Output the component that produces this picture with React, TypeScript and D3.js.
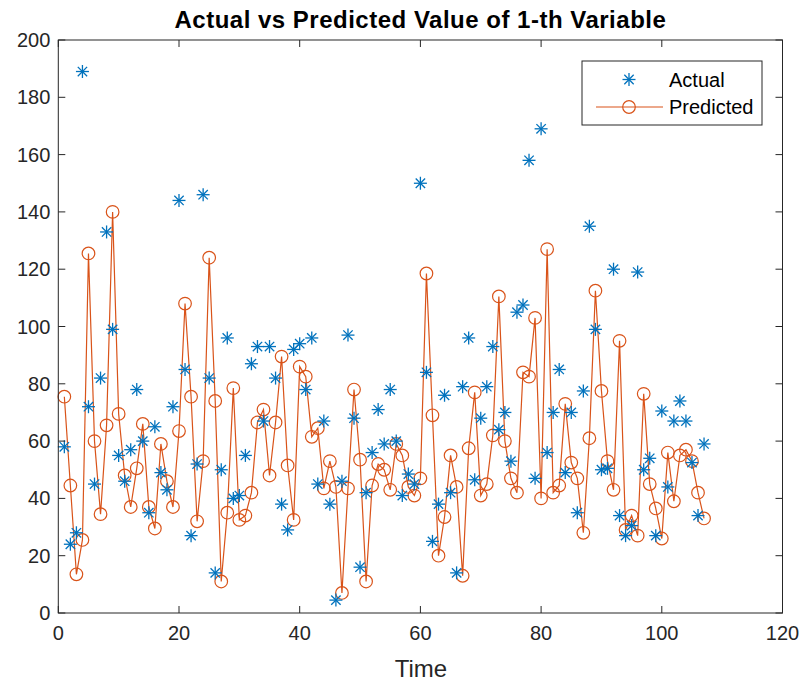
import React, { useEffect, useRef } from 'react';
import * as d3 from 'd3';

// values, time steps 1..107
const actual = [
  58, 24, 28, 189, 72, 45, 82, 133, 99, 55,
  46, 57, 78, 60, 35, 65, 49, 43, 72, 144,
  85, 27, 52, 146, 82, 14, 50, 96, 40, 41,
  55, 87, 93, 67, 93, 82, 38, 29, 92, 94,
  78, 96, 45, 67, 38, 4.5, 46, 97, 68, 16,
  42, 56, 71, 59, 78, 60, 41, 48.5, 45, 150,
  84, 25, 38, 76, 42, 14, 79, 96, 46.5, 68,
  79, 93, 64, 70, 53, 105, 107.5, 158, 47, 169,
  56, 70, 85, 49, 70, 35, 77.5, 135, 99, 50,
  50.5, 120, 34, 27, 30.5, 119, 50, 54, 27, 70.5,
  44, 67, 74, 67, 52.5, 34, 59,
];

const predicted = [
  75.5, 44.5, 13.5, 25.5, 125.5, 60, 34.5, 65.5, 140, 69.5,
  48, 37, 50.5, 66, 37, 29.5, 59, 46, 37, 63.5,
  108, 75.5, 32, 53, 124, 74, 11, 35, 78.5, 32.5,
  34, 42, 66.5, 71, 48, 66.5, 89.5, 51.5, 32.5, 86,
  82.5, 61.5, 64.5, 43.5, 53, 44, 7, 43.5, 78, 53.5,
  11, 44.5, 52, 50, 43, 59, 55, 44, 41, 47,
  118.5, 69, 20, 33.5, 55, 44, 13, 57.5, 77, 41,
  45, 62, 110.5, 60, 47, 42, 84, 82.5, 103, 40,
  127, 42, 44.5, 73, 52.5, 47, 28, 61, 112.5, 77.5,
  53, 43, 95, 29, 34, 27, 76.5, 45, 36.5, 26,
  56, 39, 55, 57, 53, 42, 33,
];

const xTicks = [0, 20, 40, 60, 80, 100, 120];
const yTicks = [0, 20, 40, 60, 80, 100, 120, 140, 160, 180, 200];

const W = 802;
const H = 681;
const BLUE = '#0072BD';
const ORANGE = '#D95319';
const AXIS = '#262626';
const FONT = '"Liberation Sans", Arial, Helvetica, sans-serif';

const asterisk = (g: any, cx: number, cy: number, r: number) => {
  const d = r * 0.72;
  const segs = [
    [cx - r, cy, cx + r, cy],
    [cx, cy - r, cx, cy + r],
    [cx - d, cy - d, cx + d, cy + d],
    [cx - d, cy + d, cx + d, cy - d],
  ];
  segs.forEach(s => {
    g.append('line')
      .attr('x1', s[0]).attr('y1', s[1])
      .attr('x2', s[2]).attr('y2', s[3])
      .attr('stroke', BLUE)
      .attr('stroke-width', 1.3);
  });
};

const Chart = () => {
  const ref = useRef<SVGSVGElement | null>(null);

  useEffect(() => {
    if (!ref.current) return;
    const svg = d3.select(ref.current);
    svg.selectAll('*').remove();

    const left = 58.3, right = 782.5, top = 40, bottom = 613;
    const x = d3.scaleLinear().domain([0, 120]).range([left, right]);
    const y = d3.scaleLinear().domain([0, 200]).range([bottom, top]);

    svg.append('rect').attr('width', W).attr('height', H).attr('fill', 'white');

    const plot = svg.append('g');

    // predicted line + circles
    const line = d3.line<number>()
      .x((d, i) => x(i + 1))
      .y(d => y(d));

    plot.append('path')
      .datum(predicted)
      .attr('d', line)
      .attr('fill', 'none')
      .attr('stroke', ORANGE)
      .attr('stroke-width', 1.2);

    plot.selectAll('circle.pred')
      .data(predicted)
      .enter()
      .append('circle')
      .attr('class', 'pred')
      .attr('cx', (d, i) => x(i + 1))
      .attr('cy', d => y(d))
      .attr('r', 6.3)
      .attr('fill', 'none')
      .attr('stroke', ORANGE)
      .attr('stroke-width', 1.2);

    // actual asterisks
    const ag = plot.append('g');
    actual.forEach((v, i) => asterisk(ag, x(i + 1), y(v), 6.5));

    // axes box with inward ticks on all sides
    const axes = svg.append('g');
    axes.append('rect')
      .attr('x', left).attr('y', top)
      .attr('width', right - left).attr('height', bottom - top)
      .attr('fill', 'none')
      .attr('stroke', AXIS)
      .attr('stroke-width', 1);

    const tl = 7;
    xTicks.forEach(t => {
      axes.append('line')
        .attr('x1', x(t)).attr('x2', x(t))
        .attr('y1', bottom).attr('y2', bottom - tl)
        .attr('stroke', AXIS);
      axes.append('line')
        .attr('x1', x(t)).attr('x2', x(t))
        .attr('y1', top).attr('y2', top + tl)
        .attr('stroke', AXIS);
      axes.append('text')
        .attr('x', x(t)).attr('y', bottom + 27)
        .attr('text-anchor', 'middle')
        .attr('font-family', FONT)
        .attr('font-size', 20)
        .attr('fill', AXIS)
        .text(t);
    });

    yTicks.forEach(t => {
      axes.append('line')
        .attr('x1', left).attr('x2', left + tl)
        .attr('y1', y(t)).attr('y2', y(t))
        .attr('stroke', AXIS);
      axes.append('line')
        .attr('x1', right).attr('x2', right - tl)
        .attr('y1', y(t)).attr('y2', y(t))
        .attr('stroke', AXIS);
      axes.append('text')
        .attr('x', left - 8).attr('y', y(t) + 7)
        .attr('text-anchor', 'end')
        .attr('font-family', FONT)
        .attr('font-size', 20)
        .attr('fill', AXIS)
        .text(t);
    });

    // title and label
    svg.append('text')
      .attr('x', (left + right) / 2).attr('y', 28)
      .attr('text-anchor', 'middle')
      .attr('font-family', FONT)
      .attr('font-size', 24)
      .attr('font-weight', 'bold')
      .attr('letter-spacing', 0.5)
      .attr('fill', 'black')
      .text('Actual vs Predicted Value of 1-th Variable');

    svg.append('text')
      .attr('x', (left + right) / 2 + 0.5).attr('y', 677)
      .attr('text-anchor', 'middle')
      .attr('font-family', FONT)
      .attr('font-size', 24)
      .attr('fill', AXIS)
      .text('Time');

    // legend
    const lg = svg.append('g');
    lg.append('rect')
      .attr('x', 582).attr('y', 61)
      .attr('width', 180).attr('height', 64)
      .attr('fill', 'white')
      .attr('stroke', AXIS)
      .attr('stroke-width', 1);
    asterisk(lg, 629, 79.5, 6.5);
    lg.append('line')
      .attr('x1', 596).attr('x2', 663)
      .attr('y1', 107).attr('y2', 107)
      .attr('stroke', ORANGE)
      .attr('stroke-width', 1.2);
    lg.append('circle')
      .attr('cx', 629).attr('cy', 107).attr('r', 6.3)
      .attr('fill', 'none')
      .attr('stroke', ORANGE)
      .attr('stroke-width', 1.2);
    lg.append('text')
      .attr('x', 669).attr('y', 87)
      .attr('font-family', FONT).attr('font-size', 20)
      .attr('fill', 'black')
      .text('Actual');
    lg.append('text')
      .attr('x', 669).attr('y', 114)
      .attr('font-family', FONT).attr('font-size', 20)
      .attr('fill', 'black')
      .text('Predicted');
  }, []);

  return (
    <svg
      ref={ref}
      width={W}
      height={H}
      style={{ position: 'absolute', left: 0, top: 0, display: 'block' }}
    />
  );
};

export default function App() {
  return <Chart />;
}
